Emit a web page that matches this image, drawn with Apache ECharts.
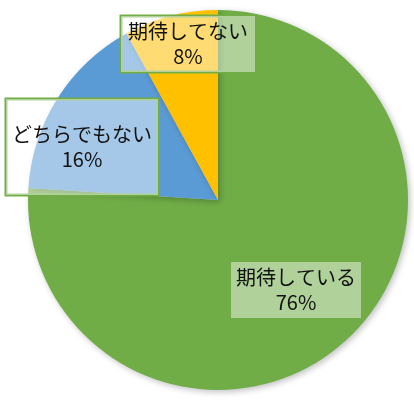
<!DOCTYPE html>
<html><head><meta charset="utf-8">
<script src="https://cdn.jsdelivr.net/npm/echarts@6/dist/echarts.min.js"></script>
<style>html,body{margin:0;padding:0;background:#fff}#c{width:414px;height:400px}</style>
</head><body><div id="c"></div>
<script>
const categories = ['期待している', 'どちらでもない', '期待してない'];
const values = [76, 16, 8];
const colors = ['#70AD47', '#5B9BD5', '#FFC000'];
const labelCenters = [[296, 290], [82, 147], [188, 44]];
const labelPads = [[3, 5], [23, 6], [3, 7]];

const chart = echarts.init(document.getElementById('c'));
chart.setOption({
  animation: false,
  series: [{
    type: 'pie',
    center: [218, 200],
    radius: [0, 190],
    startAngle: 90,
    clockwise: true,
    itemStyle: { borderWidth: 0, shadowBlur: 6, shadowColor: 'rgba(0,0,0,0.25)', shadowOffsetX: 2, shadowOffsetY: 2 },
    label: {
      position: 'inside',
      formatter: '{b}\n{d}%',
      fontFamily: 'Noto Sans CJK JP',
      fontSize: 20,
      lineHeight: 25,
      color: '#111',
      align: 'center',
      verticalAlign: 'middle',
      backgroundColor: 'rgba(255,255,255,0.45)',
      borderColor: '#70AD47',
      borderWidth: 1.5
    },
    labelLine: { show: false },
    labelLayout: function (p) {
      const c = labelCenters[p.dataIndex];
      return { x: c[0], y: c[1], align: 'center', verticalAlign: 'middle' };
    },
    data: categories.map((n, i) => ({
      name: n, value: values[i],
      itemStyle: { color: colors[i] },
      label: { padding: labelPads[i] }
    }))
  }]
});
</script></body></html>
